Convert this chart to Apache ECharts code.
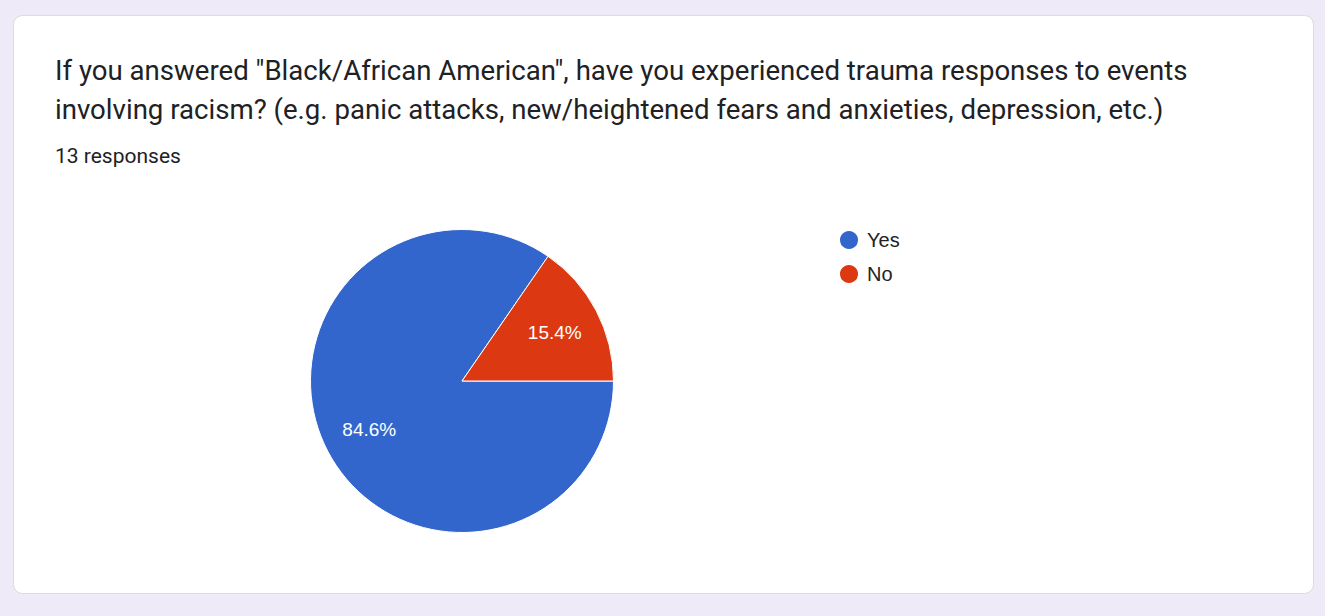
<!DOCTYPE html>
<html>
<head>
<meta charset="utf-8">
<script src="https://cdn.jsdelivr.net/npm/echarts@6/dist/echarts.min.js"></script>
<style>
  html, body { margin: 0; padding: 0; background: #efeaf8; }
  #chart { width: 1325px; height: 616px; }
</style>
</head>
<body>
<div id="chart"></div>
<script>
// Survey question and answers
const questionLines = [
  'If you answered "Black/African American", have you experienced trauma responses to events',
  'involving racism? (e.g. panic attacks, new/heightened fears and anxieties, depression, etc.)'
];
const responseCount = 13;
const answers = ['Yes', 'No'];
const answerCounts = [11, 2];
const answerColors = ['#3366cc', '#dc3912'];

const pieData = answers.map((name, i) => ({
  name: name,
  value: answerCounts[i],
  itemStyle: { color: answerColors[i] }
}));

const chart = echarts.init(document.getElementById('chart'), null, { renderer: 'svg' });

const center = [462, 381];
const radius = 151.5;

chart.setOption({
  backgroundColor: 'transparent',
  animation: false,
  graphic: [
    {
      type: 'rect',
      z: -10,
      shape: { x: 13.5, y: 15.5, width: 1300, height: 578, r: 9 },
      style: { fill: '#ffffff', stroke: '#dadce0', lineWidth: 1 }
    },
    {
      type: 'text',
      left: 55,
      top: 51,
      style: {
        text: questionLines.join('\n'),
        font: '27.6px Roboto',
        fill: '#202124',
        lineHeight: 39
      }
    },
    {
      type: 'text',
      left: 55,
      top: 145,
      style: {
        text: responseCount + ' responses',
        font: '21px Roboto',
        fill: '#202124'
      }
    }
  ],
  legend: {
    orient: 'vertical',
    left: 838,
    top: 229,
    padding: 0,
    icon: 'circle',
    itemWidth: 20,
    itemHeight: 20,
    itemGap: 12,
    textStyle: {
      fontFamily: 'Arial, "Liberation Sans"',
      fontSize: 20,
      color: '#222222',
      padding: [0, 0, 0, 3]
    },
    data: answers
  },
  series: [
    {
      type: 'pie',
      center: center,
      radius: [0, radius],
      startAngle: 0,
      clockwise: true,
      label: { show: false },
      labelLine: { show: false },
      itemStyle: { borderColor: '#ffffff', borderWidth: 1 },
      emphasis: { disabled: true },
      data: pieData
    },
    {
      // label ring: places percentages about two thirds out from the centre
      type: 'pie',
      center: center,
      radius: [52, radius],
      startAngle: 0,
      clockwise: true,
      silent: true,
      legendHoverLink: false,
      percentPrecision: 1,
      itemStyle: { color: 'rgba(0,0,0,0)', borderWidth: 0 },
      label: {
        show: true,
        position: 'inside',
        formatter: '{d}%',
        color: '#ffffff',
        fontFamily: 'Arial, "Liberation Sans"',
        fontSize: 19
      },
      labelLine: { show: false },
      emphasis: { disabled: true },
      data: answers.map((name, i) => ({ name: name + ' ', value: answerCounts[i] }))
    }
  ]
});
</script>
</body>
</html>
